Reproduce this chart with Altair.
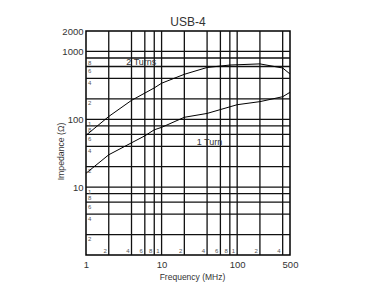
import altair as alt
import pandas as pd

chart_title = "USB-4"
x_title = "Frequency (MHz)"
y_title = "Impedance (Ω)"

# curves
freq_2t = [1, 2, 4, 8, 10, 20, 40, 80, 200, 400, 500]
imp_2t = [58, 110, 190, 290, 340, 460, 580, 630, 655, 570, 465]
freq_1t = [1, 2, 4, 6, 8, 10, 20, 40, 100, 200, 400, 500]
imp_1t = [16, 30, 45, 57, 70, 76, 107, 122, 164, 182, 215, 250]
series_names = ["2 Turns", "1 Turn"]
series_label_f = [5.4, 43]
series_label_z = [690, 47]

# axes / grid
x_domain = [1, 500]
y_domain = [1, 2000]
x_ticks = [1, 10, 100, 500]
y_ticks = [10, 100, 1000, 2000]
x_grid = [2, 4, 6, 8, 10, 20, 40, 60, 80, 100, 200, 400]
x_grid_labels = ["2", "4", "6", "8", "1", "2", "4", "6", "8", "1", "2", "4"]
y_grid = [2, 4, 6, 8, 10, 20, 40, 60, 80, 100, 200, 400, 600, 800, 1000]
y_minor = [2, 4, 6, 8, 10, 20, 40, 60, 80, 100, 200, 400, 600, 800]
y_minor_labels = ["2", "4", "6", "8", "1", "2", "4", "6", "8", "1", "2", "4", "6", "8"]

FONT = "Liberation Sans, Arial, sans-serif"

curves = pd.DataFrame(
    {"f": freq_2t + freq_1t,
     "z": imp_2t + imp_1t,
     "series": [series_names[0]] * len(freq_2t) + [series_names[1]] * len(freq_1t)}
)
vgrid = pd.DataFrame({"f": x_grid, "lab": x_grid_labels, "z": [y_domain[0]] * len(x_grid)})
hgrid = pd.DataFrame({"z": y_grid})
hlabs = pd.DataFrame({"z": y_minor, "lab": y_minor_labels, "f": [x_domain[0]] * len(y_minor)})
slabs = pd.DataFrame({"f": series_label_f, "z": series_label_z, "lab": series_names})

xs = alt.Scale(type="log", domain=x_domain, nice=False)
ys = alt.Scale(type="log", domain=y_domain, nice=False)
xaxis = alt.Axis(values=x_ticks, grid=False, ticks=False, domain=False, labelFont=FONT,
                 labelFontSize=9.5, labelColor="#333", labelPadding=4, title=x_title,
                 titleFont=FONT, titleFontSize=8.5, titleFontWeight="normal", titleColor="#333",
                 titleX=106, titleY=17, labelFlush=False, format="d")
yaxis = alt.Axis(values=y_ticks, grid=False, ticks=False, domain=False, labelFont=FONT,
                 labelFontSize=9.5, labelColor="#333", labelPadding=3, title=y_title,
                 titleFont=FONT, titleFontSize=8.7, titleFontWeight="normal", titleColor="#333",
                 titleX=-21, titleY=120, labelFlush=False, format="d")

X = alt.X("f:Q", scale=xs, axis=xaxis)
Y = alt.Y("z:Q", scale=ys, axis=yaxis)

vrules = alt.Chart(vgrid).mark_rule(color="#111", strokeWidth=1.3).encode(x=X)
hrules = alt.Chart(hgrid).mark_rule(color="#111", strokeWidth=1.3).encode(y=Y)
xlabs = alt.Chart(vgrid).mark_text(align="right", baseline="alphabetic", dx=-2, dy=-2,
                                   fontSize=6, font=FONT, color="#555").encode(x=X, y=Y, text="lab:N")
ylabs = alt.Chart(hlabs).mark_text(align="left", baseline="top", dx=2, dy=1.5,
                                   fontSize=6, font=FONT, color="#555").encode(x=X, y=Y, text="lab:N")
lines = alt.Chart(curves).mark_line(color="black", strokeWidth=1).encode(x=X, y=Y, detail="series:N")
stext = alt.Chart(slabs).mark_text(fontSize=9, font=FONT, color="#333").encode(x=X, y=Y, text="lab:N")

chart = alt.layer(vrules, hrules, xlabs, ylabs, lines, stext).properties(
    width=204, height=224,
    title=alt.TitleParams(chart_title, font=FONT, fontSize=12, fontWeight="normal",
                          color="#333", offset=5, dy=8, anchor="middle"),
    autosize="none",
    padding={"left": 78, "top": 23, "right": 40, "bottom": 30},
    background="white",
).configure_view(stroke="black", strokeWidth=1.5)

chart.save("out.html", embed_options={"renderer": "svg", "actions": False})
